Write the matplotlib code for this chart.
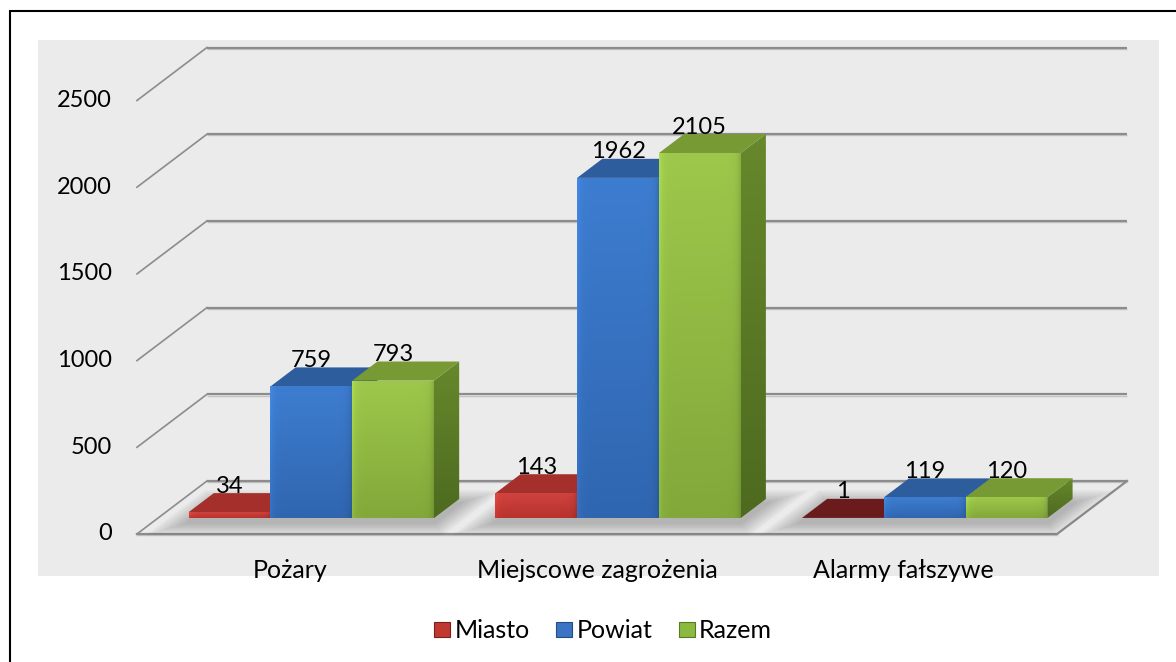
import numpy as np
import matplotlib
matplotlib.use('Agg')
import matplotlib.pyplot as plt
from matplotlib.patches import Polygon, Rectangle, Patch
from matplotlib.colors import to_rgb

# ---------------- data ----------------
categories = ['Pożary', 'Miejscowe zagrożenia', 'Alarmy fałszywe']
series_names = ['Miasto', 'Powiat', 'Razem']
miasto = [34, 143, 1]
powiat = [759, 1962, 119]
razem = [793, 2105, 120]
y_ticks = [0, 500, 1000, 1500, 2000, 2500]

series_values = [miasto, powiat, razem]

# ---------------- style ----------------
plt.rcParams['font.family'] = ['Lato', 'DejaVu Sans']
FS = 17      # numbers
FS_T = 18    # words
front_top = ['#cf433d', '#3d7dd0', '#9dc84b']
front_bot = ['#b8322e', '#3066b0', '#82a83a']
top_col = ['#a52f2b', '#2d5d9c', '#789a34']
side_top = ['#8a2522', '#28528a', '#67882c']
side_bot = ['#6e1c1a', '#1f4270', '#4d6a1f']
legend_col = ['#c0392f', '#3a74c2', '#8cb940']
legend_edge = ['#7a1f1c', '#244d85', '#5a7a24']

W, H = 1176, 662
fig = plt.figure(figsize=(W / 100, H / 100), dpi=100)
fig.patch.set_facecolor('white')


def fx(px):
    return px / W


def fy(py):
    return 1 - py / H


# chart panel and outer border
fig.patches.append(Rectangle((fx(38), fy(576)), fx(1159) - fx(38), fy(40) - fy(576),
                             transform=fig.transFigure, facecolor='#ebebeb',
                             edgecolor='none', zorder=-10))
fig.patches.append(Rectangle((fx(9.5), fy(720)), 1.2, fy(11) - fy(720),
                             transform=fig.transFigure, facecolor='none',
                             edgecolor='black', lw=1.5, zorder=-5))

ax = fig.add_axes([0, 0, 1, 1])
ax.set_axis_off()
ax.patch.set_alpha(0)

# layout of the (front plane) axes in pixels
X0, SX = 290.3, 306.7      # category 0 centre, pixels per category
Y0, SY = 534.0, 0.1734     # value 0 line, pixels per unit
DX = 70 / SX               # depth offset in category units
DV = 53 / SY               # depth offset in value units


def P(c, v, d):
    return (c + d * DX, v + d * DV)


ncat = len(categories)
cmin, cmax = -0.5, ncat - 0.5

GRID = '#8c8c8c'
# back wall + side wall gridlines
for v in y_ticks:
    a, b = P(cmin, v, 1), P(cmax, v, 1)
    ax.plot([a[0], b[0]], [a[1] - 7, b[1] - 7], color='#c4c4c4', lw=1.0, zorder=2,
            solid_capstyle='butt')
    ax.plot([a[0], b[0]], [a[1], b[1]], color=GRID, lw=1.6, zorder=2,
            solid_capstyle='butt')
    f = P(cmin, v, 0)
    ax.plot([f[0], a[0]], [f[1], a[1]], color=GRID, lw=1.2, zorder=2)

# floor
fl = [P(cmin, 0, 0), P(cmax, 0, 0), P(cmax, 0, 1)]
ax.plot([fl[0][0], fl[1][0]], [fl[0][1] - 7, fl[1][1] - 7], color='#c4c4c4', lw=1.0, zorder=2)
ax.plot([p[0] for p in fl], [p[1] for p in fl], color=GRID, lw=1.6, zorder=2)

# y tick labels
for v in y_ticks:
    ax.text(cmin - 25 / SX, v, str(v), ha='right', va='center', fontsize=FS,
            color='black', zorder=10)

# category labels
for i, cat in enumerate(categories):
    ax.text(i, -213, cat, ha='center', va='center', fontsize=FS_T, color='black', zorder=10)

# bars
BW = 0.8 / 3
D0, D1 = 0.30, 0.66


def grad_poly(verts, ctop, cbot, z, bevel=True):
    poly = Polygon(verts, closed=True, facecolor='none', edgecolor='none', zorder=z)
    ax.add_patch(poly)
    xs = [p[0] for p in verts]
    ys = [p[1] for p in verts]
    t = np.linspace(0, 1, 128)[:, None, None]
    a = np.array(to_rgb(ctop))[None, None, :]
    b = np.array(to_rgb(cbot))[None, None, :]
    img = a * (1 - t) + b * t
    img = np.repeat(img, 64, axis=1)
    if bevel:
        hx = np.linspace(0, 1, 64)[None, :, None]
        fac = 1 + 0.10 * np.exp(-hx / 0.04) - 0.12 * np.exp(-(1 - hx) / 0.04)
        img = img * fac
    img = np.clip(img, 0, 1)
    im = ax.imshow(img, extent=(min(xs), max(xs), min(ys), max(ys)), origin='upper',
                   aspect='auto', zorder=z, interpolation='bilinear')
    im.set_clip_path(poly)


for i in range(ncat):
    # soft shadow for the group
    gl = i - 1.5 * BW
    gr = i + 1.5 * BW
    for k in range(7):
        mc = 0.012 * (k + 1)
        md = 0.035 * (k + 1)
        sh = [P(gl - mc, -25, D0 - md), P(gr + mc, -25, D0 - md),
              P(gr + mc, -25, D1 + md), P(gl - mc, -25, D1 + md)]
        ax.add_patch(Polygon(sh, closed=True, facecolor='black', alpha=0.035,
                             edgecolor='none', zorder=3))
    for s in range(3):
        v = series_values[s][i]
        c0 = i + (s - 1.5) * BW
        c1 = c0 + BW
        z = 4 + i * 10 + s * 3
        tcol = top_col[s] if v > 10 else '#6a1c1c'
        # side
        side = [P(c1, 0, D0), P(c1, 0, D1), P(c1, v, D1), P(c1, v, D0)]
        grad_poly(side, side_top[s], side_bot[s], z, bevel=False)
        # top
        top = [P(c0, v, D0), P(c1, v, D0), P(c1, v, D1), P(c0, v, D1)]
        ax.add_patch(Polygon(top, closed=True, facecolor=tcol, edgecolor='none', zorder=z + 1))
        # front
        front = [P(c0, 0, D0), P(c1, 0, D0), P(c1, v, D0), P(c0, v, D0)]
        grad_poly(front, front_top[s], front_bot[s], z + 2)
        # label
        lx = (c0 + c1) / 2 + D0 * DX
        ly = v + D1 * DV
        ax.text(lx, ly + 2, str(v), ha='center', va='baseline', fontsize=FS,
                color='black', zorder=50)

ax.set_xlim(-X0 / SX, (W - X0) / SX)
ax.set_ylim((Y0 - H) / SY, Y0 / SY)
ax.set_aspect('auto')

# legend
handles = [Patch(facecolor=legend_col[s], edgecolor=legend_edge[s], lw=0.8) for s in range(3)]
fig.legend(handles, series_names, loc='center', bbox_to_anchor=(fx(603), fy(631)),
           ncol=3, frameon=False, fontsize=FS_T, handlelength=0.64, handleheight=0.52,
           handletextpad=0.18, columnspacing=1.05, borderaxespad=0, borderpad=0)

fig.savefig('out.png', dpi=100)
